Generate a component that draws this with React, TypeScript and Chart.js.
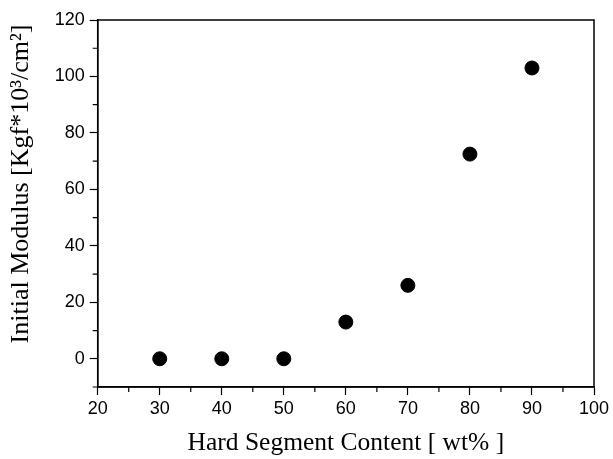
import React, { useEffect, useRef } from "react";
import { Chart, registerables } from "chart.js";

Chart.register(...registerables);

const hardSegment = [30, 40, 50, 60, 70, 80, 90];
const initialModulus = [0, 0, 0, 13, 26, 72.5, 103];
const xTicks = [20, 30, 40, 50, 60, 70, 80, 90, 100];
const xMinorTicks = [25, 35, 45, 55, 65, 75, 85, 95];
const yTicks = [0, 20, 40, 60, 80, 100, 120];
const yMinorTicks = [-10, 10, 30, 50, 70, 90, 110];

const frameAndMinor = {
  id: "frameAndMinor",
  afterDraw(chart: any) {
    const { ctx, chartArea } = chart;
    const xs = chart.scales.x;
    const ys = chart.scales.y;
    ctx.save();
    ctx.strokeStyle = "#000";
    ctx.lineWidth = 1.5;
    ctx.strokeRect(chartArea.left, chartArea.top, chartArea.right - chartArea.left, chartArea.bottom - chartArea.top);
    ctx.lineWidth = 1.2;
    ctx.beginPath();
    xMinorTicks.forEach((v) => {
      const px = xs.getPixelForValue(v);
      ctx.moveTo(px, chartArea.bottom);
      ctx.lineTo(px, chartArea.bottom + 5);
    });
    yMinorTicks.forEach((v) => {
      const py = ys.getPixelForValue(v);
      ctx.moveTo(chartArea.left, py);
      ctx.lineTo(chartArea.left - 5, py);
    });
    ctx.stroke();
    ctx.restore();
  },
};

export default function App() {
  const ref = useRef<HTMLCanvasElement>(null);
  useEffect(() => {
    const chart = new Chart(ref.current!, {
      type: "scatter",
      data: {
        datasets: [
          {
            data: hardSegment.map((x, i) => ({ x, y: initialModulus[i] })),
            backgroundColor: "#000",
            borderColor: "#000",
            pointRadius: 7,
            pointHoverRadius: 7,
          },
        ],
      },
      options: {
        animation: false,
        responsive: false,
        events: [],
        layout: { padding: { top: 20, right: 19, bottom: 0, left: 0 } },
        plugins: { legend: { display: false }, tooltip: { enabled: false } },
        scales: {
          x: {
            type: "linear",
            min: 20,
            max: 100,
            afterBuildTicks: (s: any) => {
              s.ticks = xTicks.map((v) => ({ value: v }));
            },
            afterFit: (s: any) => {
              s.height = 72;
            },
            border: { display: true, color: "#000", width: 1.5 },
            grid: { drawOnChartArea: false, drawTicks: true, tickLength: 8, tickColor: "#000", tickWidth: 1.2 },
            ticks: {
              color: "#000",
              font: { family: "Liberation Sans", size: 18 },
              padding: 3,
              maxRotation: 0,
              autoSkip: false,
            },
            title: {
              display: true,
              text: "Hard Segment Content [ wt% ]",
              color: "#000",
              font: { family: "Liberation Serif", size: 25.5 },
              padding: { top: 0, bottom: 0 },
            },
          },
          y: {
            type: "linear",
            min: -10,
            max: 120,
            afterBuildTicks: (s: any) => {
              s.ticks = yTicks.map((v) => ({ value: v }));
            },
            afterFit: (s: any) => {
              s.width = 97.7;
            },
            border: { display: true, color: "#000", width: 1.5 },
            grid: { drawOnChartArea: false, drawTicks: true, tickLength: 8, tickColor: "#000", tickWidth: 1.2 },
            ticks: {
              color: "#000",
              font: { family: "Liberation Sans", size: 18 },
              padding: 5,
              autoSkip: false,
            },
            title: {
              display: true,
              text: "      Initial Modulus [Kgf*10³/cm²]",
              color: "#000",
              font: { family: "Liberation Serif", size: 26 },
              padding: { top: 6, bottom: 0 },
            },
          },
        },
      },
      plugins: [frameAndMinor],
    });
    return () => chart.destroy();
  }, []);
  return (
    <div style={{ position: "fixed", left: 0, top: 0, width: 613, height: 459, background: "#fff" }}>
      <canvas ref={ref} width={613} height={459} style={{ width: 613, height: 459 }} />
    </div>
  );
}
